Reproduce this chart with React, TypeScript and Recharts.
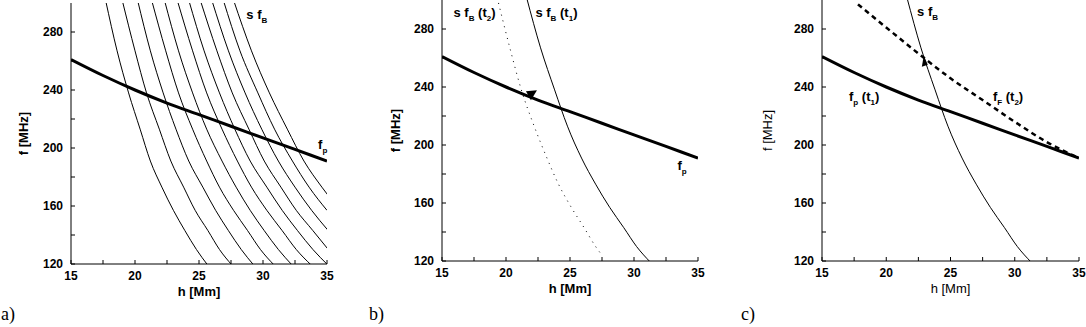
import React from "react";
import { LineChart, Line, XAxis, YAxis, ReferenceDot } from "recharts";

const hTicks = [15, 17.5, 20, 22.5, 25, 27.5, 30, 32.5, 35];
const hMajor = [15, 20, 25, 30, 35];
const fTicks = [120, 140, 160, 180, 200, 220, 240, 260, 280];
const fMajor = [120, 160, 200, 240, 280];

// plasma frequency f_p vs height
const fpH = [15, 17.5, 20, 22.5, 25, 27.5, 30, 32.5, 35];
const fpF = [261, 250, 240, 231, 223, 215, 207, 199, 191];

// s f_B curves: shared frequency levels, heights read per curve
const sfbLevels = [302, 267, 238, 213, 191, 173, 157, 143, 130, 119];
const sfbFamilyH = [
  [17.7, 18.6, 19.5, 20.4, 21.2, 22.1, 23.0, 23.9, 24.8, 25.7],
  [19.0, 20.0, 20.9, 21.9, 22.8, 23.8, 24.7, 25.7, 26.6, 27.6],
  [20.2, 21.2, 22.2, 23.2, 24.2, 25.3, 26.3, 27.3, 28.3, 29.3],
  [21.3, 22.4, 23.4, 24.5, 25.6, 26.6, 27.7, 28.8, 29.8, 30.9],
  [22.3, 23.4, 24.5, 25.6, 26.8, 27.9, 29.0, 30.1, 31.2, 32.3],
  [23.3, 24.5, 25.6, 26.8, 28.0, 29.1, 30.3, 31.5, 32.6, 33.8],
  [24.2, 25.4, 26.6, 27.8, 29.0, 30.3, 31.5, 32.7, 33.9, 35.1],
  [25.1, 26.4, 27.6, 28.9, 30.1, 31.4, 32.6, 33.9, 35.1],
  [26.0, 27.3, 28.6, 29.9, 31.2, 32.5, 33.8, 35.1],
  [26.9, 28.2, 29.6, 30.9, 32.3, 33.6, 35.0],
  [27.7, 29.1, 30.5, 31.9, 33.2, 34.6, 36.0],
];

// panel b: s f_B at t1 (solid) and t2 (dotted)
const sfbT1H = [21.6, 22.7, 23.8, 24.8, 25.9, 27.0, 28.1, 29.2, 30.2, 31.3];
const sfbT2H = [19.3, 20.3, 21.2, 22.2, 23.2, 24.1, 25.1, 26.1, 27.0, 27.5];
const sfbT2F = [302, 267, 238, 213, 191, 173, 157, 143, 130, 124];

// panel c: f_F at t2 (dashed)
const ffH = [17.8, 20, 22.8, 25, 27.5, 30, 32.5, 35];
const ffF = [297, 281, 261, 246, 231, 216, 202, 191];

const pts = (h: number[], f: number[]) => h.map((x, i) => ({ h: x, f: f[i] }));

const SANS = "'Liberation Sans', Arial, sans-serif";
const tickStyle = { fontFamily: SANS, fontSize: 12, fontWeight: 700, fill: "#000" };

type Part = [string, number?];

function Note({ x, y, parts }: { x: number; y: number; parts: Part[] }) {
  let shift = 0;
  return (
    <text x={x} y={y} fontFamily={SANS} fontSize={13} fontWeight={700} fill="#000" style={{ whiteSpace: "pre" }}>
      {parts.map(([t, s], i) => {
        const want = s ? 4 : 0;
        const dy = want - shift;
        shift = want;
        return (
          <tspan key={i} dy={dy} fontSize={s ? 8 : 13}>
            {t}
          </tspan>
        );
      })}
    </text>
  );
}

const note = (parts: Part[]) => (p: any) => <Note x={p.cx} y={p.cy} parts={parts} />;

function Panel({
  left,
  top,
  plotW,
  yW,
  yLabelOffset,
  labelWeight = 700,
  children,
}: {
  left: number;
  top: number;
  plotW: number;
  yW: number;
  yLabelOffset: number;
  labelWeight?: number;
  children: React.ReactNode;
}) {
  const width = yW + plotW + 8;
  return (
    <div style={{ position: "absolute", left, top: 0 }}>
      <LineChart width={width} height={top + 261 + 38} margin={{ top, right: 8, left: 0, bottom: 0 }}>
        <XAxis
          type="number"
          dataKey="h"
          domain={[15, 35]}
          ticks={hTicks}
          interval={0}
          allowDataOverflow
          tickFormatter={(v) => (hMajor.includes(v) ? String(v) : "")}
          tickSize={-4}
          tickMargin={11}
          height={38}
          axisLine={{ stroke: "#000" }}
          tickLine={{ stroke: "#000" }}
          tick={tickStyle}
          label={{
            value: "h [Mm]",
            position: "insideBottom",
            offset: 6,
            fill: "#000",
            fontSize: 13,
            fontWeight: labelWeight,
            fontFamily: SANS,
          }}
        />
        <YAxis
          type="number"
          dataKey="f"
          domain={[120, 300]}
          ticks={fTicks}
          interval={0}
          allowDataOverflow
          width={yW}
          tickFormatter={(v) => (fMajor.includes(v) ? String(v) : "")}
          tickSize={-4}
          tickMargin={12}
          axisLine={{ stroke: "#000" }}
          tickLine={{ stroke: "#000" }}
          tick={tickStyle}
          label={{
            value: "f [MHz]",
            angle: -90,
            position: "insideLeft",
            offset: yLabelOffset,
            fill: "#000",
            fontSize: 13,
            fontWeight: labelWeight,
            fontFamily: SANS,
            style: { textAnchor: "middle" },
          }}
        />
        {children}
      </LineChart>
    </div>
  );
}

const thin = { stroke: "#000", strokeWidth: 1, dot: false, activeDot: false, isAnimationActive: false } as const;
const thick = { stroke: "#000", strokeWidth: 3, dot: false, activeDot: false, isAnimationActive: false } as const;

export default function App() {
  const letter = (x: number, t: string) => (
    <div
      style={{
        position: "absolute",
        left: x,
        top: 305,
        fontFamily: "'Liberation Serif', 'Times New Roman', serif",
        fontSize: 18,
        lineHeight: "18px",
        color: "#000",
      }}
    >
      {t}
    </div>
  );

  return (
    <div style={{ position: "absolute", left: 0, top: 0, width: 1086, height: 327, background: "#fff", overflow: "hidden" }}>
      {/* a) family of s f_B curves */}
      <Panel left={11} top={3} plotW={256} yW={60} yLabelOffset={12}>
        {sfbFamilyH.map((h, i) => (
          <Line key={"s" + i} data={pts(h, sfbLevels)} dataKey="f" type="monotone" {...thin} />
        ))}
        <Line data={pts(fpH, fpF)} dataKey="f" type="monotone" {...thick} />
        <ReferenceDot x={28.7} y={289} r={0} shape={note([["s f"], ["B", 1]])} />
        <ReferenceDot x={34.3} y={199} r={0} shape={note([["f"], ["p", 1]])} />
      </Panel>

      {/* b) two times */}
      <Panel left={382} top={0} plotW={256} yW={60} yLabelOffset={13}>
        <Line data={pts(sfbT2H, sfbT2F)} dataKey="f" type="monotone" {...thin} strokeDasharray="1 5" />
        <Line data={pts(sfbT1H, sfbLevels)} dataKey="f" type="monotone" {...thin} />
        <Line data={pts(fpH, fpF)} dataKey="f" type="monotone" {...thick} />
        <ReferenceDot
          x={21.95}
          y={235}
          r={0}
          shape={(p: any) => (
            <polygon
              points={`${p.cx - 5},${p.cy - 3} ${p.cx + 6},${p.cy - 4} ${p.cx},${p.cy + 6}`}
              fill="#000"
            />
          )}
        />
        <ReferenceDot x={15.9} y={288} r={0} shape={note([["s f"], ["B", 1], [" (t"], ["2", 1], [")"]])} />
        <ReferenceDot x={22.3} y={288} r={0} shape={note([["s f"], ["B", 1], [" (t"], ["1", 1], [")"]])} />
        <ReferenceDot x={33.4} y={183} r={0} shape={note([["f"], ["p", 1]])} />
      </Panel>

      {/* c) dashed f_F at t2 */}
      <Panel left={752} top={0} plotW={257} yW={70} yLabelOffset={15} labelWeight={400}>
        <Line data={pts(sfbT1H, sfbLevels)} dataKey="f" type="monotone" {...thin} />
        <Line data={pts(fpH, fpF)} dataKey="f" type="monotone" {...thick} />
        <Line
          data={pts(ffH, ffF)}
          dataKey="f"
          type="monotone"
          stroke="#000"
          strokeWidth={2.5}
          strokeDasharray="5 4"
          dot={false}
          activeDot={false}
          isAnimationActive={false}
        />
        <ReferenceDot
          x={23.0}
          y={257.5}
          r={0}
          shape={(p: any) => (
            <polygon
              points={`${p.cx - 1},${p.cy - 6} ${p.cx - 3},${p.cy + 5} ${p.cx + 3},${p.cy + 3}`}
              fill="#000"
            />
          )}
        />
        <ReferenceDot x={22.4} y={289} r={0} shape={note([["s f"], ["B", 1]])} />
        <ReferenceDot x={17.1} y={230.5} r={0} shape={note([["f"], ["p", 1], [" (t"], ["1", 1], [")"]])} />
        <ReferenceDot x={28.3} y={230.5} r={0} shape={note([["f"], ["F", 1], [" (t"], ["2", 1], [")"]])} />
      </Panel>

      {letter(1, "a)")}
      {letter(369, "b)")}
      {letter(741, "c)")}
    </div>
  );
}
